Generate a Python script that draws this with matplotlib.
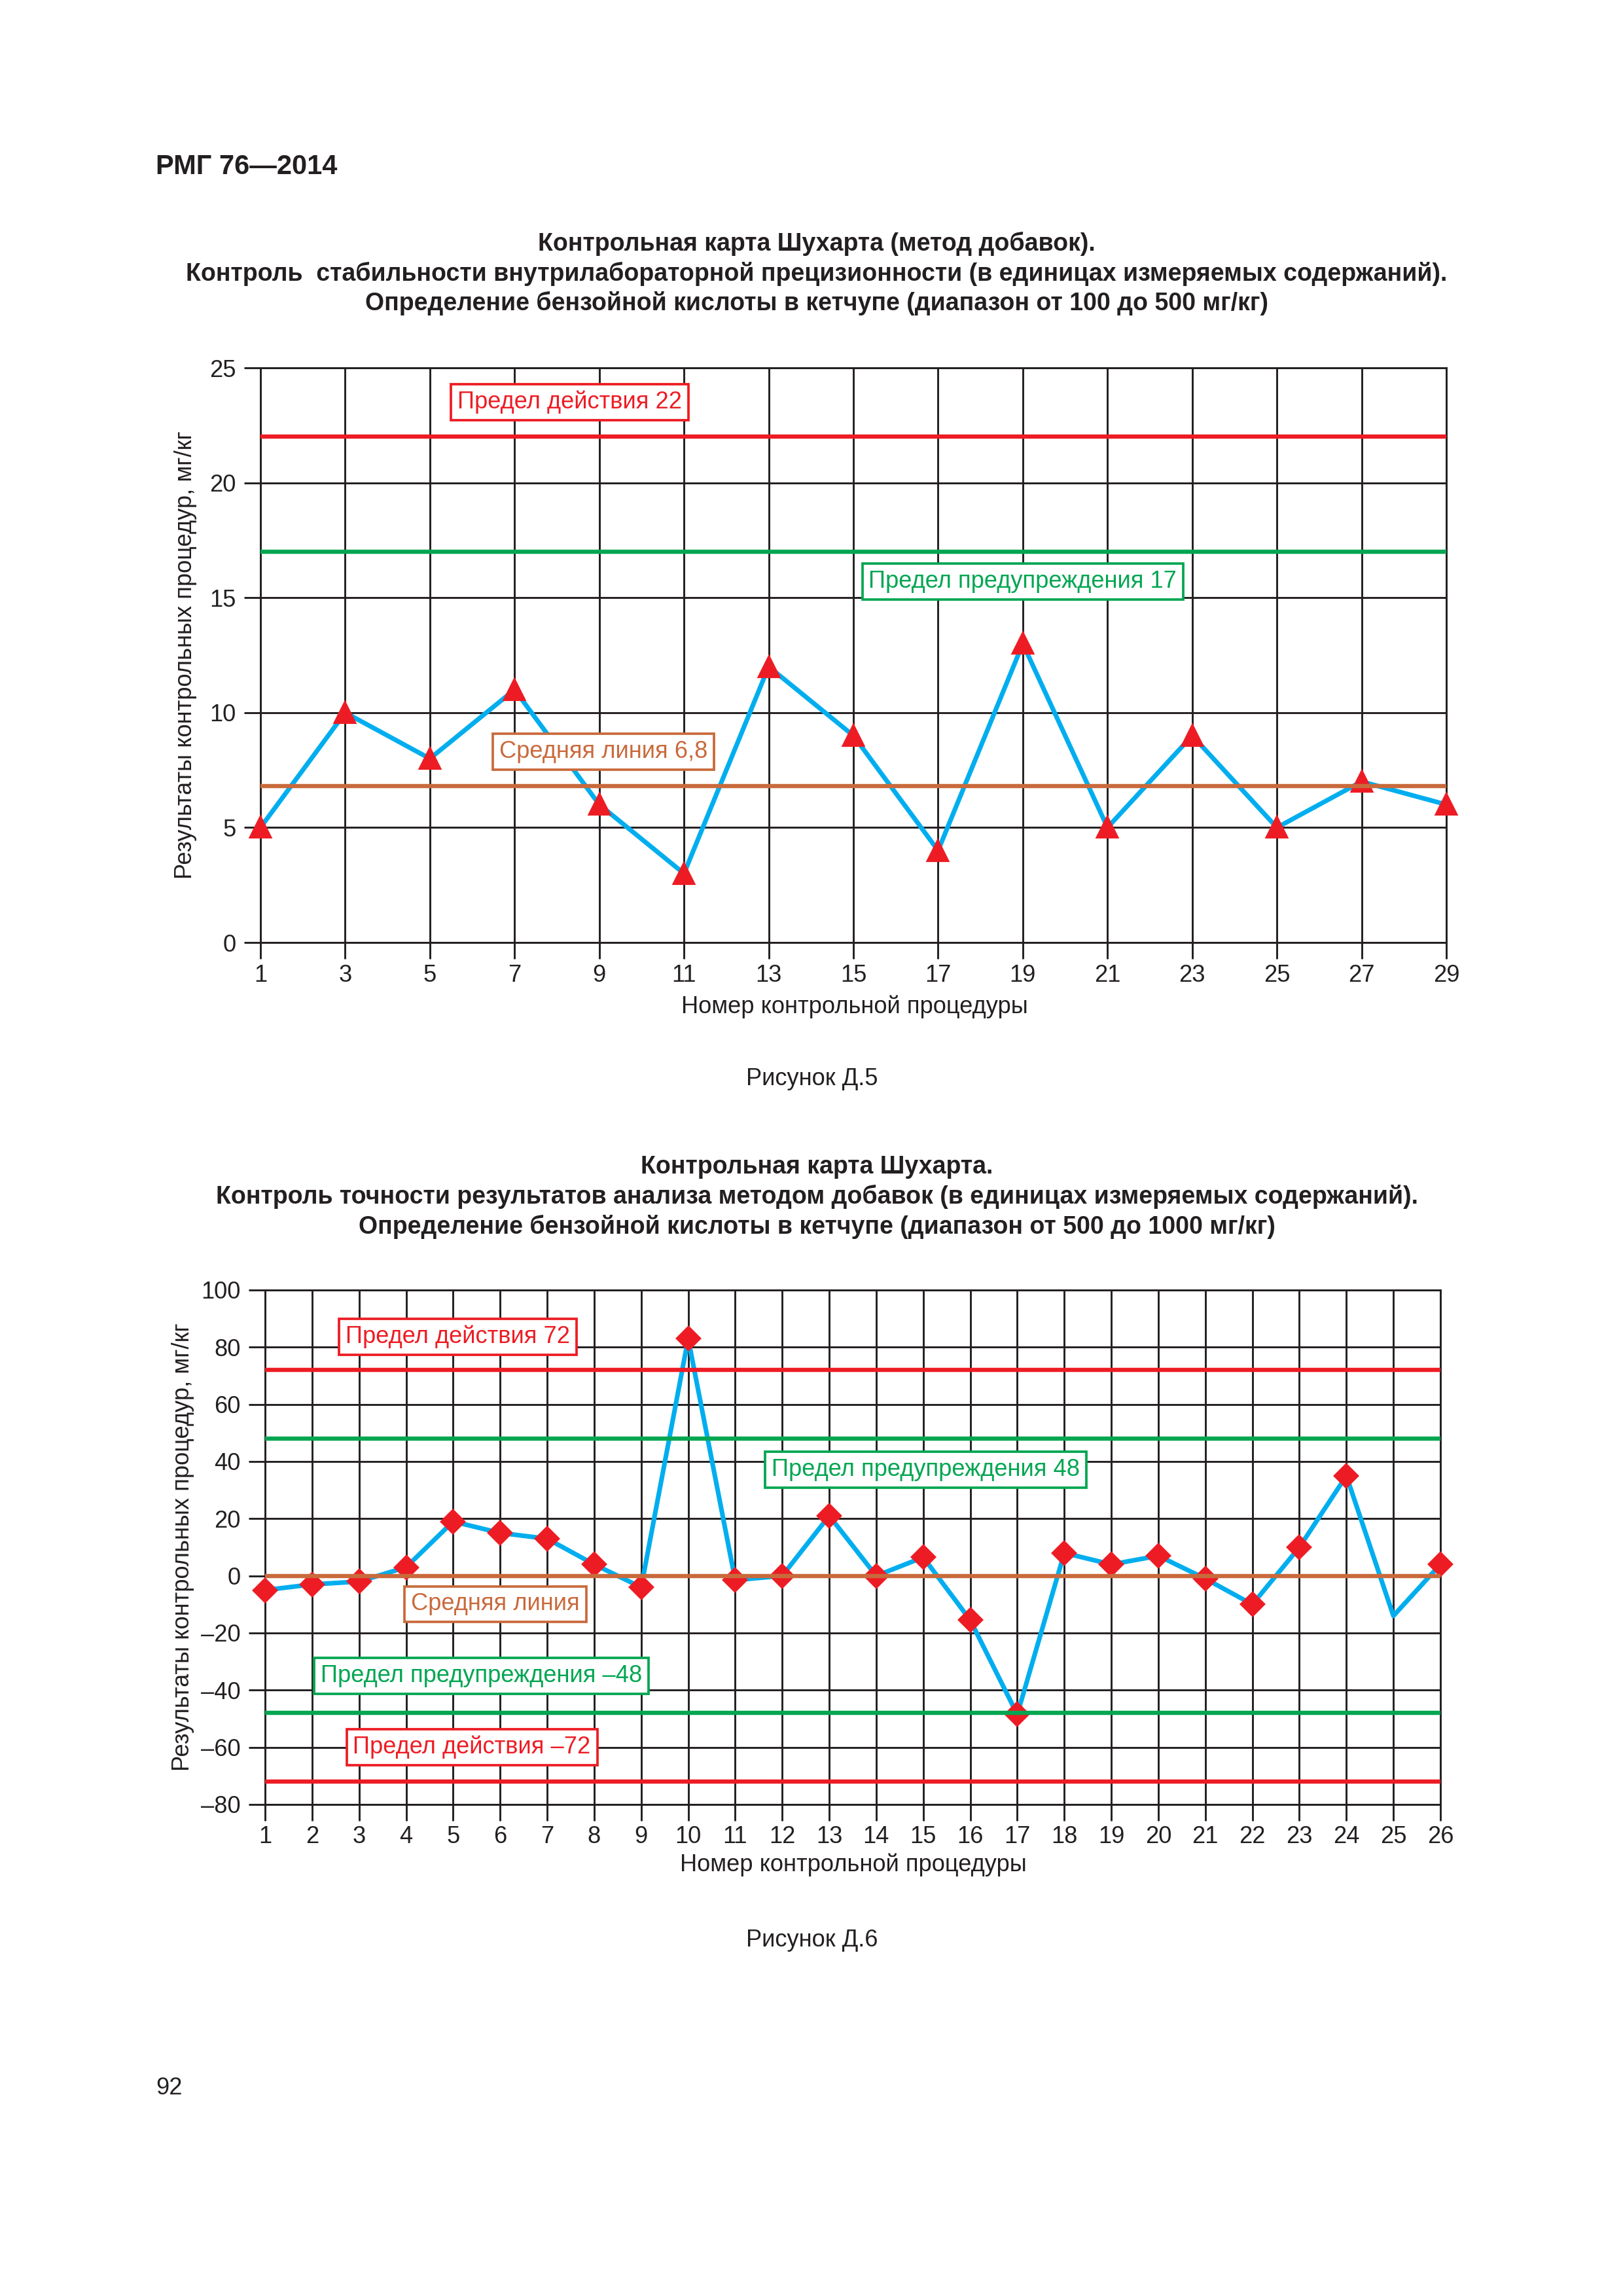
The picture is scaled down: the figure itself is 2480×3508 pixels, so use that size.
import matplotlib
matplotlib.use('Agg')
import matplotlib.pyplot as plt

plt.rcParams['font.family'] = ['Liberation Sans', 'DejaVu Sans']

RED = '#ed1c24'
GREEN = '#00a651'
ORANGE = '#c96a3c'
BLUE = '#00aeef'
INK = '#231f20'

# --- Рисунок Д.5: метод добавок, 100-500 мг/кг ---
proc5 = [1, 3, 5, 7, 9, 11, 13, 15, 17, 19, 21, 23, 25, 27, 29]
res5 = [5, 10, 8, 11, 6, 3, 12, 9, 4, 13, 5, 9, 5, 7, 6]
yticks5 = [0, 5, 10, 15, 20, 25]
ylabels5 = ['0', '5', '10', '15', '20', '25']
limits5 = [22, 17, 6.8]
limit_colors5 = [RED, GREEN, ORANGE]
notes5 = ['Предел действия 22', 'Предел предупреждения 17', 'Средняя линия 6,8']
note_x5 = [8.3, 19.0, 9.1]
note_y5 = [23.5, 15.7, 8.3]

# --- Рисунок Д.6: 500-1000 мг/кг ---
proc6 = list(range(1, 27))
res6 = [-5, -3, -2, 3, 19, 15, 13, 4, -4, 83, -1.5, 0, 21, 0, 6.5, -15.5,
        -48.5, 8, 4, 7, -1, -10, 10, 35, -14, 4]
no_marker6 = [25]
yticks6 = [-80, -60, -40, -20, 0, 20, 40, 60, 80, 100]
ylabels6 = ['–80', '–60', '–40', '–20', '0', '20', '40', '60', '80', '100']
limits6 = [72, 48, 0, -48, -72]
limit_colors6 = [RED, GREEN, ORANGE, GREEN, RED]
notes6 = ['Предел действия 72', 'Предел предупреждения 48', 'Средняя линия',
          'Предел предупреждения –48', 'Предел действия –72']
note_colors6 = [RED, GREEN, ORANGE, GREEN, RED]
note_x6 = [5.1, 15.05, 5.9, 5.6, 5.4]
note_y6 = [83.6, 37.1, -9.9, -35.0, -60.0]

title5 = ('Контрольная карта Шухарта (метод добавок).\n'
          'Контроль  стабильности внутрилабораторной прецизионности (в единицах измеряемых содержаний).\n'
          'Определение бензойной кислоты в кетчупе (диапазон от 100 до 500 мг/кг)')
title6 = ('Контрольная карта Шухарта.\n'
          'Контроль точности результатов анализа методом добавок (в единицах измеряемых содержаний).\n'
          'Определение бензойной кислоты в кетчупе (диапазон от 500 до 1000 мг/кг)')
ylab = 'Результаты контрольных процедур, мг/кг'
xlab = 'Номер контрольной процедуры'

W, H = 2480, 3508
fig = plt.figure(figsize=(W / 300, H / 300), dpi=300)
FS = 8.7


def fx(px):
    return px / W


def fy(px):
    return 1 - px / H


def setup_axes(ax, xticks, yticks, ylabels, ylim):
    ax.set_xlim(xticks[0], xticks[-1])
    ax.set_ylim(*ylim)
    ax.set_xticks(xticks)
    ax.set_xticklabels([str(v) for v in xticks])
    ax.set_yticks(yticks)
    ax.set_yticklabels(ylabels)
    ax.set_axisbelow(True)
    ax.grid(True, color=INK, lw=0.7)
    for s in ax.spines.values():
        s.set_color(INK)
        s.set_linewidth(0.7)
    ax.tick_params(direction='out', length=6, width=0.7, color=INK,
                   labelsize=FS, pad=3, labelcolor=INK)
    ax.tick_params(axis='x', pad=1.8)


# chart 1
ax1 = fig.add_axes([fx(398), fy(1440), fx(2210 - 398), fy(562) - fy(1440)])
setup_axes(ax1, proc5, yticks5, ylabels5, (0, 25))
ax1.plot(proc5, res5, color=BLUE, lw=1.7, marker='^', ms=7.3,
         mfc=RED, mec=RED, zorder=3, clip_on=False)
for val, col in zip(limits5, limit_colors5):
    ax1.axhline(val, color=col, lw=1.55, zorder=4)
for txt, col, x, y in zip(notes5, limit_colors5, note_x5, note_y5):
    ax1.text(x, y, txt, color=col, fontsize=FS, ha='center', va='center', zorder=5,
             bbox=dict(boxstyle='square,pad=0.27', fc='white', ec=col, lw=0.9))

# chart 2
ax2 = fig.add_axes([fx(405), fy(2757), fx(2201 - 405), fy(1971) - fy(2757)])
setup_axes(ax2, proc6, yticks6, ylabels6, (-80, 100))
ax2.plot(proc6, res6, color=BLUE, lw=1.7, zorder=3, clip_on=False)
mx = [p for p in proc6 if p not in no_marker6]
my = [v for p, v in zip(proc6, res6) if p not in no_marker6]
ax2.plot(mx, my, ls='none', marker='D', ms=5.8, mfc=RED, mec=RED,
         zorder=3, clip_on=False)
for val, col in zip(limits6, limit_colors6):
    ax2.axhline(val, color=col, lw=1.55, zorder=4)
for txt, col, x, y in zip(notes6, note_colors6, note_x6, note_y6):
    ax2.text(x, y, txt, color=col, fontsize=FS, ha='center', va='center', zorder=5,
             bbox=dict(boxstyle='square,pad=0.27', fc='white', ec=col, lw=0.9))

# page texts
fig.text(fx(238), fy(255), 'РМГ 76—2014', fontsize=10, fontweight='bold',
         ha='left', va='center', color=INK)
fig.text(fx(1248), fy(418), title5, fontsize=9.0, fontweight='bold',
         ha='center', va='center', linespacing=1.3, color=INK)
fig.text(fx(1248), fy(1829), title6, fontsize=9.0, fontweight='bold',
         ha='center', va='center', linespacing=1.3, color=INK)

fig.text(fx(283), fy(1001), ylab, fontsize=FS, rotation=90, ha='center', va='center', color=INK)
fig.text(fx(279), fy(2364), ylab, fontsize=FS, rotation=90, ha='center', va='center', color=INK)
fig.text(fx(1306), fy(1538), xlab, fontsize=FS, ha='center', va='center', color=INK)
fig.text(fx(1304), fy(2849), xlab, fontsize=FS, ha='center', va='center', color=INK)

fig.text(fx(1241), fy(1648), 'Рисунок Д.5', fontsize=FS, ha='center', va='center', color=INK)
fig.text(fx(1241), fy(2965), 'Рисунок Д.6', fontsize=FS, ha='center', va='center', color=INK)
fig.text(fx(258), fy(3190), '92', fontsize=FS, ha='center', va='center', color=INK)

fig.savefig('out.png', dpi=300, facecolor='white')
